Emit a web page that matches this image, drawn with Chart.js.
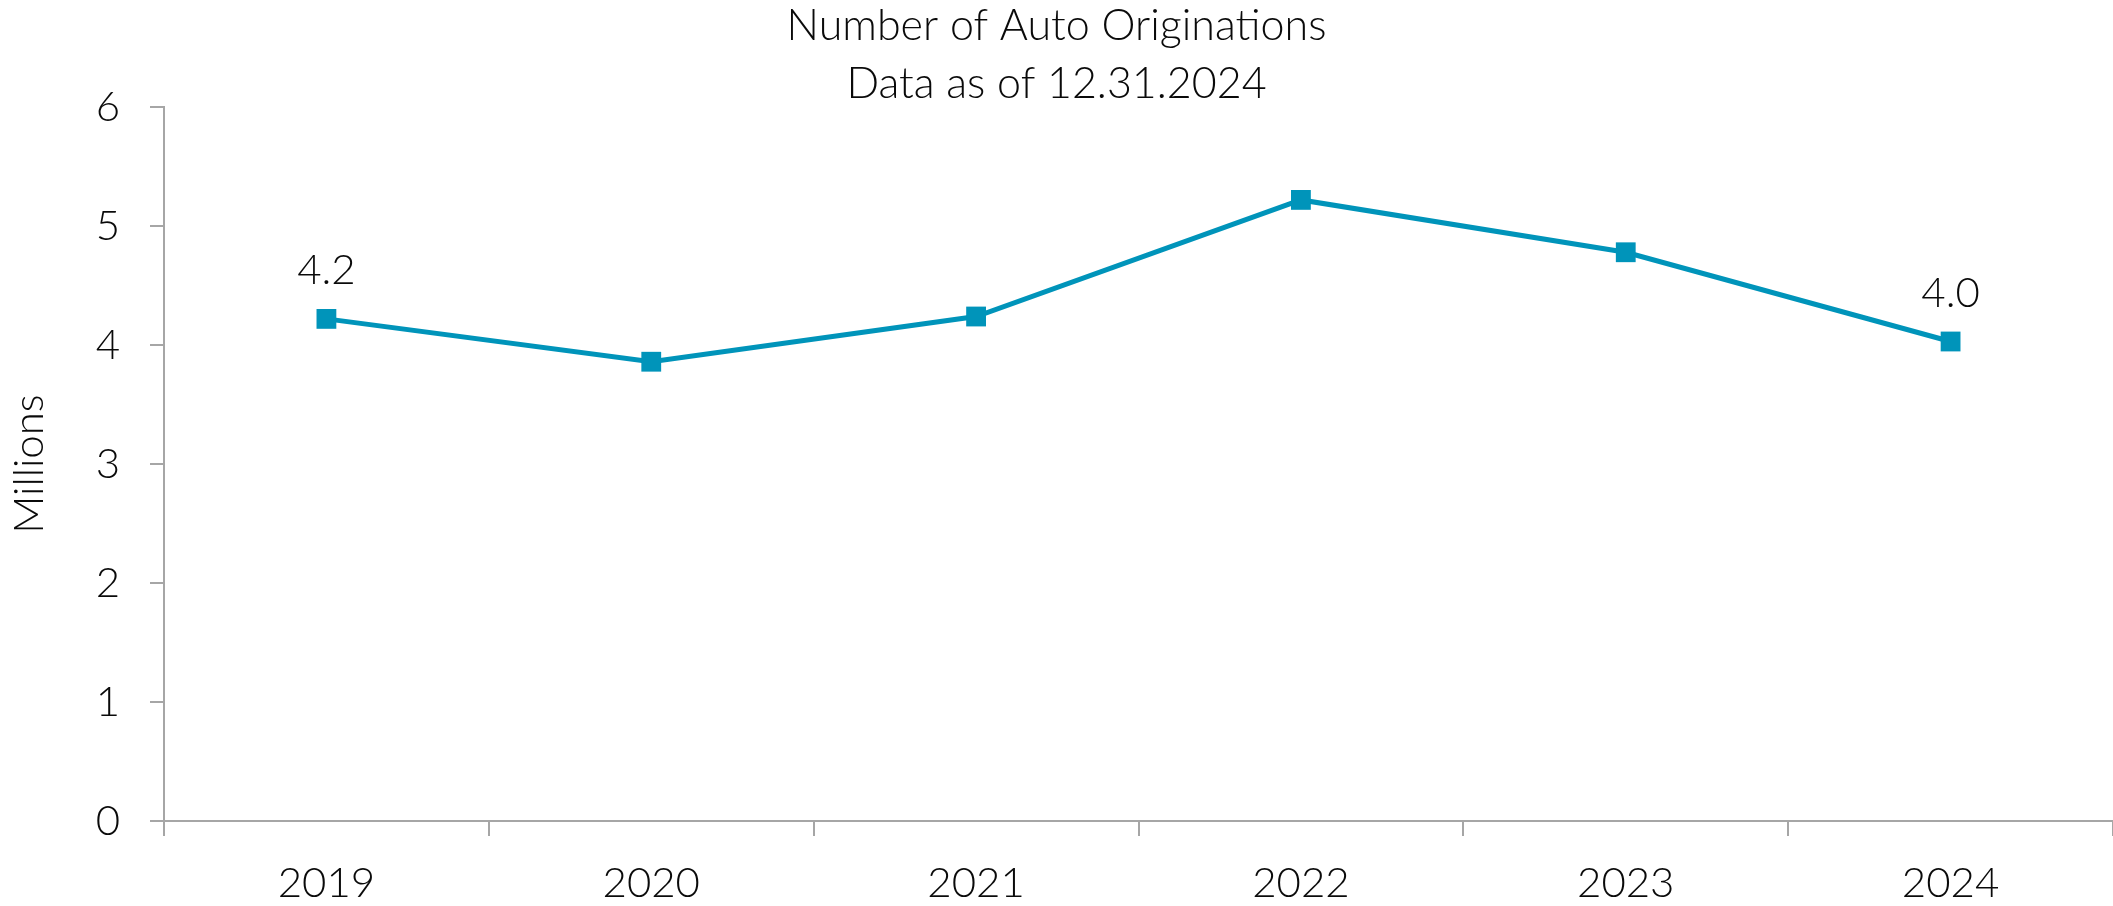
<!DOCTYPE html>
<html>
<head>
    <title>Number of Auto Originations</title>
    <script src="https://cdn.jsdelivr.net/npm/chart.js"></script>
    <style>
        html, body {
            margin: 0;
            padding: 0;
            background: #ffffff;
        }
        canvas {
            display: block;
        }
    </style>
</head>
<body>
    <canvas id="originationsChart" width="2113" height="906"></canvas>

    <script>
        // Yearly auto originations, in millions
        const years = ['2019', '2020', '2021', '2022', '2023', '2024'];
        const originations = [4.22, 3.86, 4.24, 5.22, 4.78, 4.03];
        // Only the first and last points carry a value label
        const labeledPoints = [0, 5];

        const titleLines = ['Number of Auto Originations', 'Data as of 12.31.2024'];
        const yTicks = [0, 1, 2, 3, 4, 5, 6];

        const lineColor = '#0094BA';
        const axisColor = '#A6A6A6';
        const textColor = '#0A0A0A';
        const fontFamily = "Lato, 'Open Sans', 'Noto Sans', sans-serif";
        const fontSize = 42;

        // Draws the value above the chosen points
        const pointValueLabels = {
            id: 'pointValueLabels',
            afterDatasetsDraw(chart) {
                const ctx = chart.ctx;
                const meta = chart.getDatasetMeta(0);
                const values = chart.data.datasets[0].data;
                ctx.save();
                ctx.font = '300 ' + fontSize + 'px ' + fontFamily;
                ctx.fillStyle = textColor;
                ctx.textAlign = 'center';
                ctx.textBaseline = 'middle';
                labeledPoints.forEach(i => {
                    const pt = meta.data[i];
                    ctx.fillText(values[i].toFixed(1), pt.x, pt.y - 48);
                });
                ctx.restore();
            }
        };

        const ctx = document.getElementById('originationsChart').getContext('2d');
        const chart = new Chart(ctx, {
            type: 'line',
            data: {
                labels: years,
                datasets: [{
                    label: 'Auto originations',
                    data: originations,
                    borderColor: lineColor,
                    backgroundColor: lineColor,
                    borderWidth: 5,
                    tension: 0,
                    pointStyle: 'rect',
                    pointRadius: 14,
                    pointBorderWidth: 0,
                    pointBackgroundColor: lineColor,
                    fill: false,
                    clip: false
                }]
            },
            options: {
                responsive: false,
                devicePixelRatio: 1,
                animation: false,
                layout: {
                    autoPadding: false,
                    padding: { left: 0, right: 0, top: 0, bottom: 0 }
                },
                plugins: {
                    legend: { display: false },
                    tooltip: { enabled: false },
                    title: {
                        display: true,
                        text: titleLines,
                        color: textColor,
                        font: { family: fontFamily, size: 43, weight: '300', lineHeight: 1.35 },
                        padding: { top: -3, bottom: -6 }
                    }
                },
                scales: {
                    x: {
                        type: 'category',
                        offset: true,
                        afterFit(scale) {
                            scale.height = 85;
                        },
                        grid: {
                            offset: true,
                            drawOnChartArea: false,
                            drawTicks: true,
                            tickLength: 15,
                            color: axisColor,
                            lineWidth: 2
                        },
                        border: { display: true, color: axisColor, width: 2 },
                        ticks: {
                            color: textColor,
                            font: { family: fontFamily, size: fontSize, weight: '300' },
                            padding: 22,
                            maxRotation: 0
                        }
                    },
                    y: {
                        min: 0,
                        max: 6,
                        afterBuildTicks(scale) {
                            scale.ticks = yTicks.map(v => ({ value: v }));
                        },
                        afterFit(scale) {
                            scale.width = 164;
                        },
                        grid: {
                            drawOnChartArea: false,
                            drawTicks: true,
                            tickLength: 14,
                            color: axisColor,
                            lineWidth: 2
                        },
                        border: { display: true, color: axisColor, width: 2 },
                        ticks: {
                            color: textColor,
                            font: { family: fontFamily, size: fontSize, weight: '300' },
                            padding: 30
                        },
                        title: {
                            display: true,
                            text: 'Millions',
                            color: textColor,
                            font: { family: fontFamily, size: fontSize, weight: '300' },
                            padding: { top: 4, bottom: 0 }
                        }
                    }
                }
            },
            plugins: [pointValueLabels]
        });
    </script>
</body>
</html>
